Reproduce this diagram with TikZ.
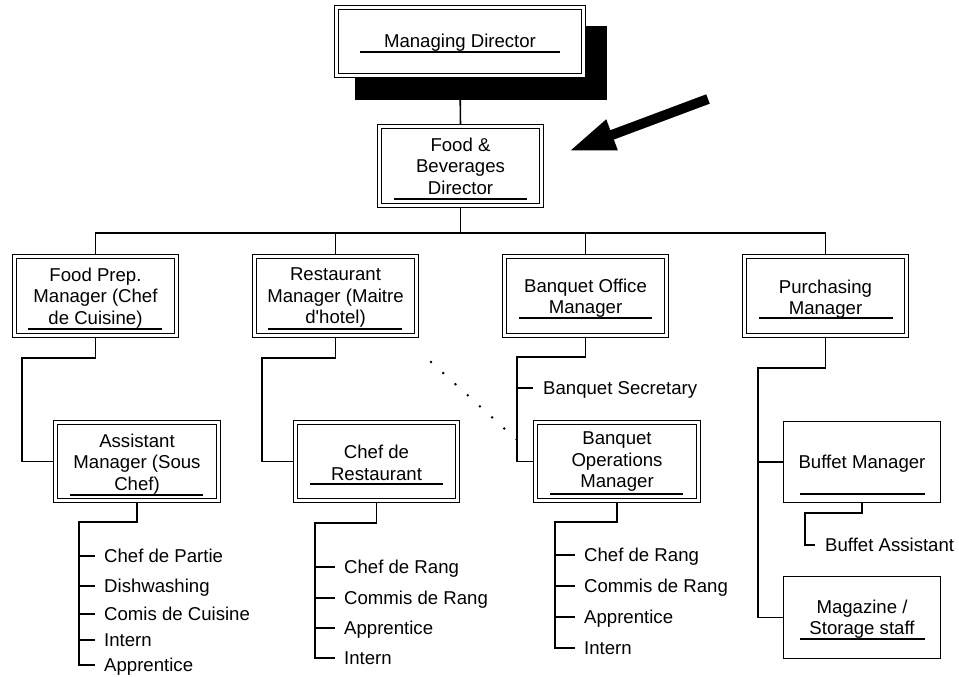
\documentclass[tikz,border=0pt]{standalone}
\usepackage{fontspec}
\setmainfont{Liberation Sans}
\usetikzlibrary{arrows.meta,backgrounds,calc}
\begin{document}
\begin{tikzpicture}[x=1pt,y=-1pt,
  dbox/.style={draw, fill=white, double=white, line width=1.3pt, double distance=2.7pt, inner sep=0pt, outer sep=0pt},
  sbox/.style={draw, fill=white, line width=1.3pt, inner sep=0pt, outer sep=0pt},
  btext/.style={align=center, inner sep=0pt, font=\fontsize{18.6}{21.5}\selectfont},
  ltext/.style={anchor=west, inner sep=0pt, text height=13.3pt, text depth=0pt, font=\fontsize{18.6}{21.5}\selectfont},
  conn/.style={line width=1.6pt},
  uline/.style={line width=1.3pt},
  dotline/.style={line width=2.8pt, line cap=round, dash pattern=on 0pt off 16.5pt}]
\useasboundingbox (0,0) rectangle (959,677);

% shadow of the top box
\fill (355,26) rectangle (607,100);

% boxes
\node[dbox, minimum width=246.7pt, minimum height=67.7pt] (MD) at (460,41.5) {};
\node[dbox, minimum width=161.7pt, minimum height=78.7pt] (FB) at (460.5,166) {};
\node[dbox, minimum width=161.7pt, minimum height=78.7pt] (FP) at (95.5,296) {};
\node[dbox, minimum width=161.7pt, minimum height=78.7pt] (RM) at (335.5,296) {};
\node[dbox, minimum width=161.7pt, minimum height=78.7pt] (BO) at (585.5,296) {};
\node[dbox, minimum width=161.7pt, minimum height=78.7pt] (PM) at (825.5,296) {};
\node[dbox, minimum width=162.7pt, minimum height=77.7pt] (AM) at (137,461.5) {};
\node[dbox, minimum width=161.7pt, minimum height=77.7pt] (CR) at (376.5,461.5) {};
\node[dbox, minimum width=162.7pt, minimum height=77.7pt] (BOM) at (617,461.5) {};
\node[sbox, minimum width=156.7pt, minimum height=80.7pt] (BM) at (862,462) {};
\node[sbox, minimum width=156.7pt, minimum height=81.7pt] (MS) at (862,617.5) {};

% box texts
\node[btext, anchor=base] (tMD) at (460,48) {Managing Director};
\node[btext] (tFB) at (460.5,166) {Food \&\\Beverages\\Director};
\node[btext] (tFP) at (95.5,298) {Food Prep.\\Manager (Chef\\de Cuisine)};
\node[btext] (tRM) at (335.5,298) {Restaurant\\Manager (Maitre\\d\textquotesingle hotel)};
\node[btext] (tBO) at (585.5,298) {Banquet Office\\Manager};
\node[btext] (tPM) at (825.5,299) {Purchasing\\Manager};
\node[btext] (tAM) at (137,464) {Assistant\\Manager (Sous\\Chef)};
\node[btext] (tCR) at (376.5,463) {Chef de\\Restaurant};
\node[btext] (tBOM) at (617,462) {Banquet\\Operations\\Manager};
\node[btext, anchor=base] (tBM) at (862,468.7) {Buffet Manager};
\node[btext] (tMS) at (862,619) {Magazine /\\Storage staff};

% underlines
\draw[uline] (360,52) -- (560,52);
\draw[uline] (394,199) -- (527,199);
\draw[uline] (28,329) -- (162,329);
\draw[uline] (268,329) -- (402,329);
\draw[uline] (519,318) -- (652,318);
\draw[uline] (759,318) -- (893,318);
\draw[uline] (70,495) -- (203,495);
\draw[uline] (310,484) -- (443,484);
\draw[uline] (550,494) -- (683,494);
\draw[uline] (800,494) -- (925,494);
\draw[uline] (800,639) -- (925,639);

% list texts
\node[ltext] (a1) at (104,556) {Chef de Partie};
\node[ltext] (a2) at (104,586) {Dishwashing};
\node[ltext] (a3) at (104,614) {Comis de Cuisine};
\node[ltext] (a4) at (104,640) {Intern};
\node[ltext] (a5) at (104,665) {Apprentice};

\node[ltext] (c1) at (344,567) {Chef de Rang};
\node[ltext] (c2) at (344,598) {Commis de Rang};
\node[ltext] (c3) at (344,628) {Apprentice};
\node[ltext] (c4) at (344,658) {Intern};

\node[ltext] (o1) at (584,555) {Chef de Rang};
\node[ltext] (o2) at (584,586) {Commis de Rang};
\node[ltext] (o3) at (584,617) {Apprentice};
\node[ltext] (o4) at (584,648) {Intern};

\node[ltext] (bs) at (543,388) {Banquet Secretary};
\node[ltext] (ba) at (825,545) {Buffet Assistant};

% pointer arrow
\coordinate (atail) at (708,99);
\coordinate (atip) at (569,151);
\draw[line width=10pt, -{Triangle[length=46pt,width=30pt]}] (atail) -- (atip);

% dotted link
\coordinate (dA) at (431,362);
\coordinate (dB) at (517,440);
\draw[dotline] (dA) -- (dB);

\begin{pgfonlayer}{background}
\draw[conn] (MD.south) -- (FB.north);
\draw[conn] (FB.south) -- ++(0,27.65) coordinate (bus);
\draw[conn] (bus) -| (FP.north);
\draw[conn] (bus) -| (RM.north);
\draw[conn] (bus) -| (BO.north);
\draw[conn] (bus) -| (PM.north);

\draw[conn] (FP.south) -- ++(0,22.65) -| ($(AM.west)+(-33.65,0)$) -- (AM.west);
\draw[conn] (RM.south) -- ++(0,22.65) -| ($(CR.west)+(-33.65,0)$) -- (CR.west);
\draw[conn] (BO.south) -- ++(0,21.65) -| ($(BOM.west)+(-18.65,0)$) -- (BOM.west);
\draw[conn] ($(bs.west)+(-26,0)$) -- ($(bs.west)+(-10,0)$);
\draw[conn] (PM.south) -- ++(0,32.65) -| ($(MS.west)+(-25.65,0)$) -- (MS.west);
\draw[conn] (BM.west) -- ++(-25.65,0);
\draw[conn] (BM.south) -- ++(0,10.65) -| ($(ba.west)+(-20,0)$) -- ($(ba.west)+(-10,0)$);

\draw[conn] (AM.south) -- ++(0,21.65) -| ($(a5.west)+(-25,0)$) -- ($(a5.west)+(-9,0)$);
\foreach \n in {a1,a2,a3,a4} \draw[conn] ($(\n.west)+(-25,0)$) -- ($(\n.west)+(-9,0)$);
\draw[conn] (CR.south) -- ++(0,22.65) -| ($(c4.west)+(-29,0)$) -- ($(c4.west)+(-9,0)$);
\foreach \n in {c1,c2,c3} \draw[conn] ($(\n.west)+(-29,0)$) -- ($(\n.west)+(-9,0)$);
\draw[conn] (BOM.south) -- ++(0,21.65) -| ($(o4.west)+(-29,0)$) -- ($(o4.west)+(-9,0)$);
\foreach \n in {o1,o2,o3} \draw[conn] ($(\n.west)+(-29,0)$) -- ($(\n.west)+(-9,0)$);
\end{pgfonlayer}
\end{tikzpicture}
\end{document}
